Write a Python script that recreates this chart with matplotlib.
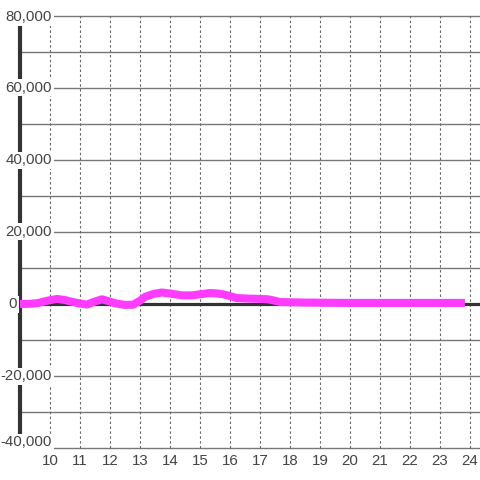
import matplotlib
matplotlib.use('Agg')
import matplotlib.pyplot as plt

# datos (hora, valor)
horas = [9.0, 9.3, 9.6, 9.9, 10.23, 10.5, 10.73, 11.0, 11.23, 11.5, 11.73, 11.95,
         12.17, 12.5, 12.77, 13.0, 13.17, 13.45, 13.73, 14.05, 14.4, 14.73, 15.0,
         15.33, 15.55, 15.77, 16.0, 16.23, 16.6, 16.9, 17.27, 17.5, 17.67, 18.5,
         20.0, 23.83]
valores = [0, 50, 250, 900, 1400, 1100, 600, 150, -150, 700, 1300, 800,
           200, -250, -200, 900, 2000, 2800, 3200, 2850, 2400, 2400, 2700,
           3050, 2950, 2700, 2200, 1650, 1500, 1450, 1300, 900, 550, 400,
           300, 300]

x_ticks = list(range(10, 25))
y_ticks = list(range(-40000, 80001, 20000))
y_grid = list(range(-40000, 80001, 10000))

plt.rcParams['font.family'] = ['Liberation Sans', 'DejaVu Sans']

fig = plt.figure(figsize=(4.8, 4.8), dpi=100)
ax = fig.add_axes([20/480, 32/480, 460/480, 432/480])
ax.set_xlim(9, 9 + 460/30)
ax.set_ylim(-40000, 80000)
for s in ax.spines.values():
    s.set_visible(False)
ax.set_yticks([])
ax.set_xticks(x_ticks)
ax.set_xticklabels([str(h) for h in x_ticks], fontsize=10.8, color='#444')
ax.tick_params(axis='x', length=0, pad=4)

# rejilla
for v in y_grid:
    if v != 0:
        ax.axhline(v, color='#777', lw=1.0, zorder=1, clip_on=False)
for h in x_ticks:
    ax.axvline(h, color='#666', lw=0.8, ls=(0, (2.2, 2.2)), zorder=1, clip_on=False)

ax.axhline(0, color='#333', lw=2.3, zorder=2)
ax.axvline(9, color='#333', lw=3.0, zorder=2, clip_on=False)

ax.plot(horas, valores, color='#ff3bff', lw=5.8, solid_joinstyle='round',
        solid_capstyle='butt', zorder=4, clip_on=False)

for v in y_ticks:
    off_x = -3 if v == 0 else 32
    off_y = 6 if v == -40000 else (-1 if v == 80000 else 0)
    ax.annotate(f'{v:,}', xy=(9, v), xycoords='data', xytext=(off_x, off_y),
                textcoords='offset pixels', ha='right', va='center',
                fontsize=10.8, color='#444', zorder=6, annotation_clip=False,
                bbox=dict(boxstyle='square,pad=0.1', fc='white', ec='none'))

plt.savefig('out.png', dpi=100)
